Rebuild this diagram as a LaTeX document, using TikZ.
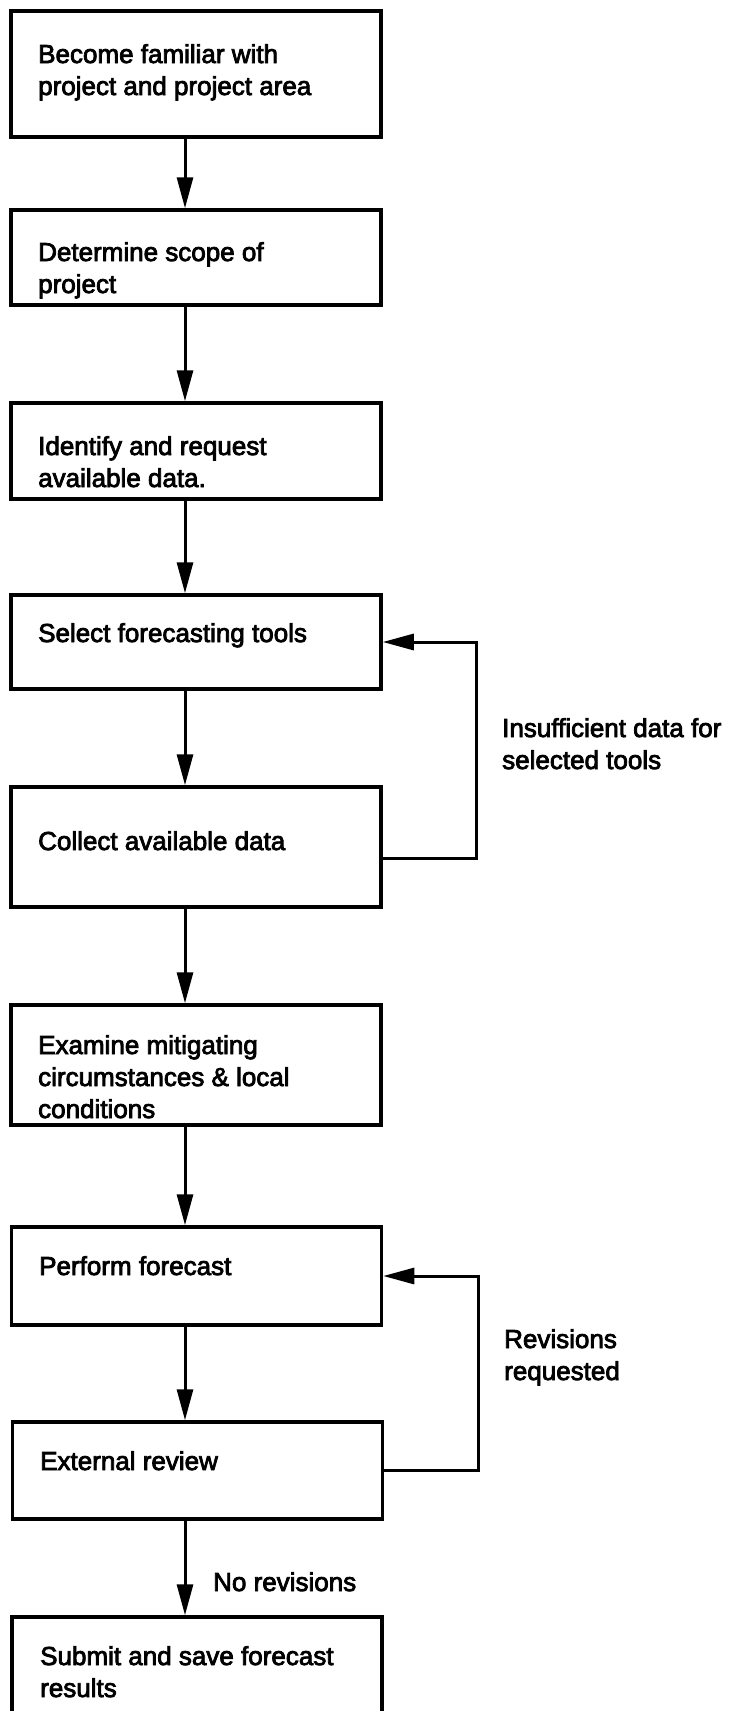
\documentclass[tikz,border=0pt]{standalone}
\usepackage{fontspec}
\setmainfont{Liberation Sans}
\newfontfamily\diagfont{Liberation Sans}[FakeBold=3]
\usetikzlibrary{arrows.meta,calc}
\begin{document}
\begin{tikzpicture}[x=1pt,y=-1pt,
  box/.style={draw, rectangle, line width=3.5pt, inner sep=0pt, minimum width=370pt},
  lbl/.style={font=\diagfont\fontsize{26}{32}\selectfont, inner sep=0pt, anchor=base west},
  flow/.style={line width=3pt, -{Triangle[length=31pt,width=16pt]}},
  plain/.style={line width=3pt}]
\useasboundingbox (0,0) rectangle (735,1711);
\clip (0,0) rectangle (735,1711);
% boxes
\node[box, minimum height=126pt] (b1) at (196,74) {};
\node[box, minimum height=95pt]  (b2) at (196,257.5) {};
\node[box, minimum height=96pt]  (b3) at (196,451) {};
\node[box, minimum height=94pt]  (b4) at (196,642) {};
\node[box, minimum height=120pt] (b5) at (196,847) {};
\node[box, minimum height=120pt] (b6) at (196,1065) {};
\node[box, minimum height=98pt]  (b7) at (196.5,1276) {};
\node[box, minimum height=97pt]  (b8) at (197.5,1470.5) {};
\node[box, minimum height=150pt] (b9) at (197,1692) {};
% box texts (first baseline at the given point)
\node[lbl] (t1) at (38,63) {\vtop{\hbox{Become familiar with}\hbox{project and project area}}};
\node[lbl] (t2) at (38,261) {\vtop{\hbox{Determine scope of}\hbox{project}}};
\node[lbl] (t3) at (38,455) {\vtop{\hbox{Identify and request}\hbox{available data.}}};
\node[lbl] (t4) at (38,642) {Select forecasting tools};
\node[lbl] (t5) at (38,850) {Collect available data};
\node[lbl] (t6) at (38,1054) {\vtop{\hbox{Examine mitigating}\hbox{circumstances \& local}\hbox{conditions}}};
\node[lbl] (t7) at (39,1275) {Perform forecast};
\node[lbl] (t8) at (40,1470) {External review};
\node[lbl] (t9) at (40,1665) {\vtop{\hbox{Submit and save forecast}\hbox{results}}};
% side labels
\node[lbl] (l1) at (502,737) {\vtop{\hbox{Insufficient data for}\hbox{selected tools}}};
\node[lbl] (l2) at (504,1348) {\vtop{\hbox{Revisions}\hbox{requested}}};
\node[lbl] (l3) at (213,1591) {No revisions};
% helper coordinates
\coordinate (ax) at (185,0);
\coordinate (r1) at (476,0);
\coordinate (r2) at (478,0);
\coordinate (y858) at (0,858);
% main flow
\draw[flow] (b1.south -| ax) -- (b2.north -| ax);
\draw[flow] (b2.south -| ax) -- (b3.north -| ax);
\draw[flow] (b3.south -| ax) -- (b4.north -| ax);
\draw[flow] (b4.south -| ax) -- (b5.north -| ax);
\draw[flow] (b5.south -| ax) -- (b6.north -| ax);
\draw[flow] (b6.south -| ax) -- (b7.north -| ax);
\draw[flow] (b7.south -| ax) -- (b8.north -| ax);
\draw[flow] (b8.south -| ax) -- (b9.north -| ax);
% feedback loops
\draw[flow] (b5.east |- y858) -| (r1 |- b4.east) -- (b4.east);
\draw[flow] (b8.east) -| (r2 |- b7.east) -- (b7.east);
\end{tikzpicture}
\end{document}
